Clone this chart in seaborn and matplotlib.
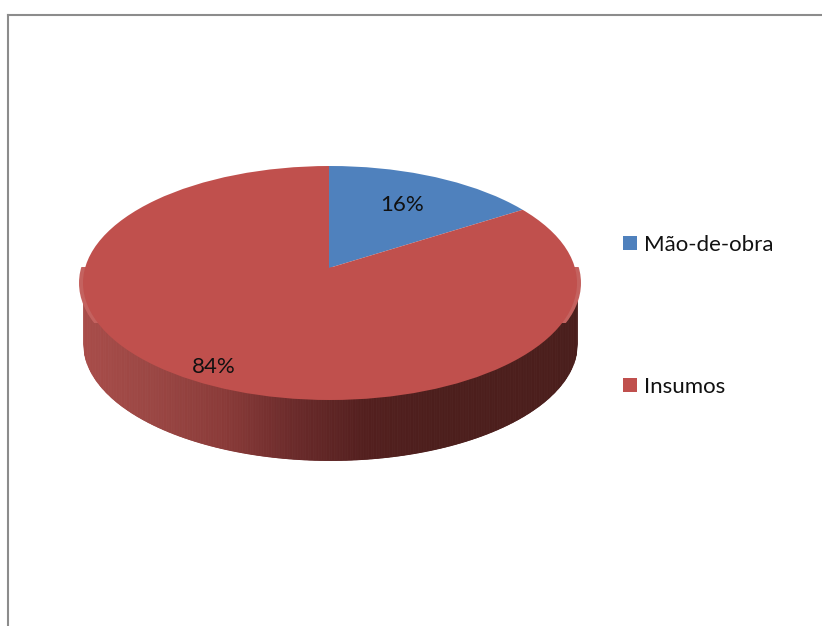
import numpy as np
import matplotlib
matplotlib.use("Agg")
import matplotlib.pyplot as plt
from matplotlib.patches import Ellipse, Rectangle
import seaborn as sns

categories = ["Mão-de-obra", "Insumos"]
shares = [16, 84]
colors = ["#4F81BD", "#C0504D"]
side_stops = ["#A84C49", "#9A4643", "#8A3A38", "#6A2A2A", "#531F1E", "#4C1E1C", "#4C1E1C", "#4A1E1C"]
label_radius = [0.61, 0.965]

sns.set_theme(style="white")
plt.rcParams["font.family"] = ["Lato", "DejaVu Sans"]

W, H = 822, 626
fig = plt.figure(figsize=(W / 100, H / 100), dpi=100, facecolor="white")
left_px, top_px = 8, 15
ax = fig.add_axes([left_px / W, 0, 1 - left_px / W, 1 - top_px / H])

# Ellipse geometry of the tilted pie: unit circle stretched to pixels
cx, cy, rx, ry = 330, 283, 247, 117
depth = 60 / ry
apex = (-0.004, 15 / ry)

# Side wall, shaded strip by strip from left to right
xs = np.linspace(-1, 1, 401)
ramp = sns.blend_palette(side_stops, n_colors=len(xs) - 1)
for i, c in enumerate(ramp):
    xa = xs[i:i + 2]
    ax.fill_between(xa, 0, -depth - np.sqrt(1 - xa ** 2), color=c, lw=0.6,
                    antialiased=False, zorder=1)

# Faint rim at the far left and right of the top face, then the top face itself
rim = Ellipse((0, 0), 2 * 251 / rx, 2, fc="#C4625F", ec="none", zorder=1.5)
ax.add_patch(rim)
rim_band = Rectangle((-2, -40 / ry), 4, 56 / ry, transform=ax.transData, fc="none", ec="none")
ax.add_patch(rim_band)
rim.set_clip_path(rim_band)
clip = Ellipse((0, 0), 2, 2, transform=ax.transData, fc="none", ec="none")
ax.add_patch(clip)

wedges, _, autos = ax.pie(
    shares, colors=colors, startangle=90, counterclock=False,
    center=apex, radius=2.2, frame=True, wedgeprops={"linewidth": 0},
    autopct=lambda p: f"{p:.0f}%", textprops={"fontsize": 16, "color": "#111111"},
)
theta = np.radians(90 - np.cumsum([0] + shares[:-1]) * 3.6 - np.array(shares) * 1.8)
for w, t, r, a in zip(wedges, autos, label_radius, theta):
    w.set_clip_on(True)
    w.set_clip_path(clip)
    w.set_zorder(2)
    t.set_position((apex[0] + r * np.cos(a), apex[1] + r * np.sin(a)))
    t.set_zorder(3)

ax.set_aspect("auto")
ax.set_xlim((left_px - cx) / rx, (W - cx) / rx)
ax.set_ylim((cy - H) / ry, (cy - top_px) / ry)
ax.set_xticks([])
ax.set_yticks([])
for name, sp in ax.spines.items():
    sp.set_visible(name in ("left", "top"))
    sp.set_color("#8C8C8C")
    sp.set_linewidth(1.5)

fs = 16
ax.legend(
    wedges, categories, fontsize=fs, frameon=False,
    handlelength=0.63, handleheight=0.63, handletextpad=0.32,
    labelspacing=5.48, borderpad=0, borderaxespad=0,
    loc="upper left", labelcolor="#111111",
    bbox_to_anchor=(623 / W, 1 - 235 / H), bbox_transform=fig.transFigure,
)

fig.savefig("out.png", dpi=100, facecolor="white")
